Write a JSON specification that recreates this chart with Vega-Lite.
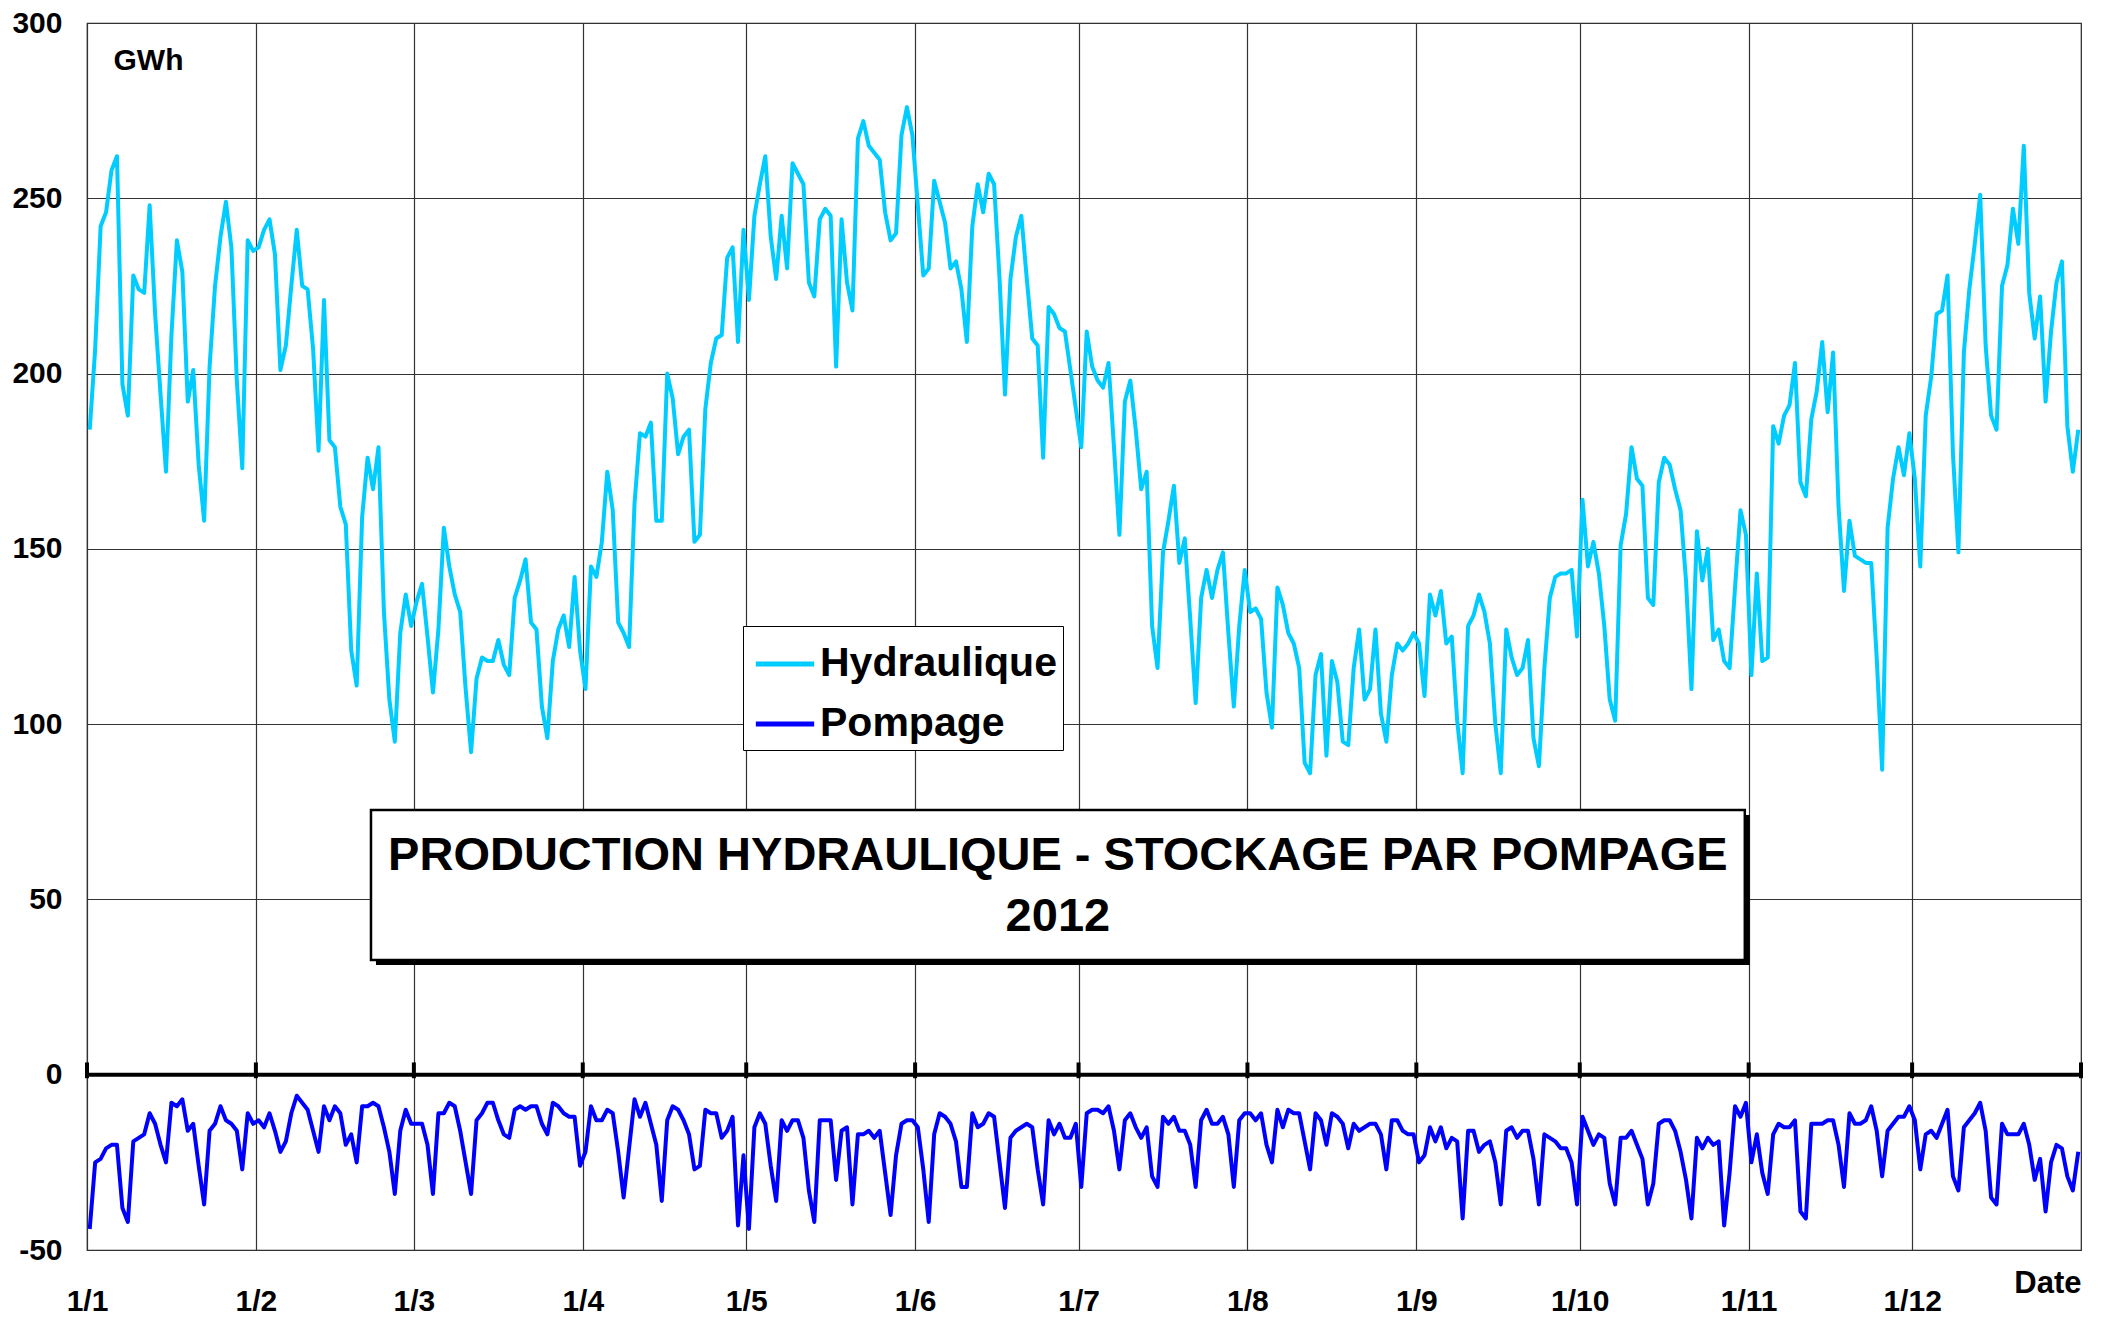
{
"$schema": "https://vega.github.io/schema/vega-lite/v6.json",
"width": 1994,
"height": 1227,
"autosize": {"type": "none"},
"padding": {"left": 87, "top": 23, "right": 26, "bottom": 68},
"background": "white",
"config": {"view": {"stroke": "#222", "strokeWidth": 1.2}, "font": "Liberation Sans"},
"data": {"values": [{}]},
"datasets": {
"daily": [
{"d":"2012-01-01T12:00","Hydraulique":184,"Pompage":-44},
{"d":"2012-01-02T12:00","Hydraulique":207,"Pompage":-25},
{"d":"2012-01-03T12:00","Hydraulique":242,"Pompage":-24},
{"d":"2012-01-04T12:00","Hydraulique":246,"Pompage":-21},
{"d":"2012-01-05T12:00","Hydraulique":258,"Pompage":-20},
{"d":"2012-01-06T12:00","Hydraulique":262,"Pompage":-20},
{"d":"2012-01-07T12:00","Hydraulique":197,"Pompage":-38},
{"d":"2012-01-08T12:00","Hydraulique":188,"Pompage":-42},
{"d":"2012-01-09T12:00","Hydraulique":228,"Pompage":-19},
{"d":"2012-01-10T12:00","Hydraulique":224,"Pompage":-18},
{"d":"2012-01-11T12:00","Hydraulique":223,"Pompage":-17},
{"d":"2012-01-12T12:00","Hydraulique":248,"Pompage":-11},
{"d":"2012-01-13T12:00","Hydraulique":217,"Pompage":-14},
{"d":"2012-01-14T12:00","Hydraulique":194,"Pompage":-20},
{"d":"2012-01-15T12:00","Hydraulique":172,"Pompage":-25},
{"d":"2012-01-16T12:00","Hydraulique":211,"Pompage":-8},
{"d":"2012-01-17T12:00","Hydraulique":238,"Pompage":-9},
{"d":"2012-01-18T12:00","Hydraulique":229,"Pompage":-7},
{"d":"2012-01-19T12:00","Hydraulique":192,"Pompage":-16},
{"d":"2012-01-20T12:00","Hydraulique":201,"Pompage":-14},
{"d":"2012-01-21T12:00","Hydraulique":174,"Pompage":-26},
{"d":"2012-01-22T12:00","Hydraulique":158,"Pompage":-37},
{"d":"2012-01-23T12:00","Hydraulique":202,"Pompage":-16},
{"d":"2012-01-24T12:00","Hydraulique":225,"Pompage":-14},
{"d":"2012-01-25T12:00","Hydraulique":239,"Pompage":-9},
{"d":"2012-01-26T12:00","Hydraulique":249,"Pompage":-13},
{"d":"2012-01-27T12:00","Hydraulique":236,"Pompage":-14},
{"d":"2012-01-28T12:00","Hydraulique":198,"Pompage":-16},
{"d":"2012-01-29T12:00","Hydraulique":173,"Pompage":-27},
{"d":"2012-01-30T12:00","Hydraulique":238,"Pompage":-11},
{"d":"2012-01-31T12:00","Hydraulique":235,"Pompage":-14},
{"d":"2012-02-01T12:00","Hydraulique":236,"Pompage":-13},
{"d":"2012-02-02T12:00","Hydraulique":241,"Pompage":-15},
{"d":"2012-02-03T12:00","Hydraulique":244,"Pompage":-11},
{"d":"2012-02-04T12:00","Hydraulique":234,"Pompage":-16},
{"d":"2012-02-05T12:00","Hydraulique":201,"Pompage":-22},
{"d":"2012-02-06T12:00","Hydraulique":208,"Pompage":-19},
{"d":"2012-02-07T12:00","Hydraulique":225,"Pompage":-11},
{"d":"2012-02-08T12:00","Hydraulique":241,"Pompage":-6},
{"d":"2012-02-09T12:00","Hydraulique":225,"Pompage":-8},
{"d":"2012-02-10T12:00","Hydraulique":224,"Pompage":-10},
{"d":"2012-02-11T12:00","Hydraulique":207,"Pompage":-16},
{"d":"2012-02-12T12:00","Hydraulique":178,"Pompage":-22},
{"d":"2012-02-13T12:00","Hydraulique":221,"Pompage":-9},
{"d":"2012-02-14T12:00","Hydraulique":181,"Pompage":-13},
{"d":"2012-02-15T12:00","Hydraulique":179,"Pompage":-9},
{"d":"2012-02-16T12:00","Hydraulique":162,"Pompage":-11},
{"d":"2012-02-17T12:00","Hydraulique":157,"Pompage":-20},
{"d":"2012-02-18T12:00","Hydraulique":121,"Pompage":-17},
{"d":"2012-02-19T12:00","Hydraulique":111,"Pompage":-25},
{"d":"2012-02-20T12:00","Hydraulique":159,"Pompage":-9},
{"d":"2012-02-21T12:00","Hydraulique":176,"Pompage":-9},
{"d":"2012-02-22T12:00","Hydraulique":167,"Pompage":-8},
{"d":"2012-02-23T12:00","Hydraulique":179,"Pompage":-9},
{"d":"2012-02-24T12:00","Hydraulique":132,"Pompage":-15},
{"d":"2012-02-25T12:00","Hydraulique":107,"Pompage":-22},
{"d":"2012-02-26T12:00","Hydraulique":95,"Pompage":-34},
{"d":"2012-02-27T12:00","Hydraulique":126,"Pompage":-16},
{"d":"2012-02-28T12:00","Hydraulique":137,"Pompage":-10},
{"d":"2012-02-29T12:00","Hydraulique":128,"Pompage":-14},
{"d":"2012-03-01T12:00","Hydraulique":135,"Pompage":-14},
{"d":"2012-03-02T12:00","Hydraulique":140,"Pompage":-14},
{"d":"2012-03-03T12:00","Hydraulique":125,"Pompage":-20},
{"d":"2012-03-04T12:00","Hydraulique":109,"Pompage":-34},
{"d":"2012-03-05T12:00","Hydraulique":127,"Pompage":-11},
{"d":"2012-03-06T12:00","Hydraulique":156,"Pompage":-11},
{"d":"2012-03-07T12:00","Hydraulique":145,"Pompage":-8},
{"d":"2012-03-08T12:00","Hydraulique":137,"Pompage":-9},
{"d":"2012-03-09T12:00","Hydraulique":132,"Pompage":-16},
{"d":"2012-03-10T12:00","Hydraulique":110,"Pompage":-25},
{"d":"2012-03-11T12:00","Hydraulique":92,"Pompage":-34},
{"d":"2012-03-12T12:00","Hydraulique":113,"Pompage":-13},
{"d":"2012-03-13T12:00","Hydraulique":119,"Pompage":-11},
{"d":"2012-03-14T12:00","Hydraulique":118,"Pompage":-8},
{"d":"2012-03-15T12:00","Hydraulique":118,"Pompage":-8},
{"d":"2012-03-16T12:00","Hydraulique":124,"Pompage":-13},
{"d":"2012-03-17T12:00","Hydraulique":117,"Pompage":-17},
{"d":"2012-03-18T12:00","Hydraulique":114,"Pompage":-18},
{"d":"2012-03-19T12:00","Hydraulique":136,"Pompage":-10},
{"d":"2012-03-20T12:00","Hydraulique":141,"Pompage":-9},
{"d":"2012-03-21T12:00","Hydraulique":147,"Pompage":-10},
{"d":"2012-03-22T12:00","Hydraulique":129,"Pompage":-9},
{"d":"2012-03-23T12:00","Hydraulique":127,"Pompage":-9},
{"d":"2012-03-24T12:00","Hydraulique":105,"Pompage":-14},
{"d":"2012-03-25T12:00","Hydraulique":96,"Pompage":-17},
{"d":"2012-03-26T12:00","Hydraulique":118,"Pompage":-8},
{"d":"2012-03-27T12:00","Hydraulique":127,"Pompage":-9},
{"d":"2012-03-28T12:00","Hydraulique":131,"Pompage":-11},
{"d":"2012-03-29T12:00","Hydraulique":122,"Pompage":-12},
{"d":"2012-03-30T12:00","Hydraulique":142,"Pompage":-12},
{"d":"2012-03-31T12:00","Hydraulique":121,"Pompage":-26},
{"d":"2012-04-01T12:00","Hydraulique":110,"Pompage":-22},
{"d":"2012-04-02T12:00","Hydraulique":145,"Pompage":-9},
{"d":"2012-04-03T12:00","Hydraulique":142,"Pompage":-13},
{"d":"2012-04-04T12:00","Hydraulique":152,"Pompage":-13},
{"d":"2012-04-05T12:00","Hydraulique":172,"Pompage":-10},
{"d":"2012-04-06T12:00","Hydraulique":161,"Pompage":-11},
{"d":"2012-04-07T12:00","Hydraulique":129,"Pompage":-22},
{"d":"2012-04-08T12:00","Hydraulique":126,"Pompage":-35},
{"d":"2012-04-09T12:00","Hydraulique":122,"Pompage":-21},
{"d":"2012-04-10T12:00","Hydraulique":163,"Pompage":-7},
{"d":"2012-04-11T12:00","Hydraulique":183,"Pompage":-12},
{"d":"2012-04-12T12:00","Hydraulique":182,"Pompage":-8},
{"d":"2012-04-13T12:00","Hydraulique":186,"Pompage":-14},
{"d":"2012-04-14T12:00","Hydraulique":158,"Pompage":-20},
{"d":"2012-04-15T12:00","Hydraulique":158,"Pompage":-36},
{"d":"2012-04-16T12:00","Hydraulique":200,"Pompage":-13},
{"d":"2012-04-17T12:00","Hydraulique":193,"Pompage":-9},
{"d":"2012-04-18T12:00","Hydraulique":177,"Pompage":-10},
{"d":"2012-04-19T12:00","Hydraulique":182,"Pompage":-13},
{"d":"2012-04-20T12:00","Hydraulique":184,"Pompage":-17},
{"d":"2012-04-21T12:00","Hydraulique":152,"Pompage":-27},
{"d":"2012-04-22T12:00","Hydraulique":154,"Pompage":-26},
{"d":"2012-04-23T12:00","Hydraulique":190,"Pompage":-10},
{"d":"2012-04-24T12:00","Hydraulique":203,"Pompage":-11},
{"d":"2012-04-25T12:00","Hydraulique":210,"Pompage":-11},
{"d":"2012-04-26T12:00","Hydraulique":211,"Pompage":-18},
{"d":"2012-04-27T12:00","Hydraulique":233,"Pompage":-16},
{"d":"2012-04-28T12:00","Hydraulique":236,"Pompage":-12},
{"d":"2012-04-29T12:00","Hydraulique":209,"Pompage":-43},
{"d":"2012-04-30T12:00","Hydraulique":241,"Pompage":-23},
{"d":"2012-05-01T12:00","Hydraulique":221,"Pompage":-44},
{"d":"2012-05-02T12:00","Hydraulique":245,"Pompage":-15},
{"d":"2012-05-03T12:00","Hydraulique":254,"Pompage":-11},
{"d":"2012-05-04T12:00","Hydraulique":262,"Pompage":-14},
{"d":"2012-05-05T12:00","Hydraulique":239,"Pompage":-26},
{"d":"2012-05-06T12:00","Hydraulique":227,"Pompage":-36},
{"d":"2012-05-07T12:00","Hydraulique":245,"Pompage":-13},
{"d":"2012-05-08T12:00","Hydraulique":230,"Pompage":-16},
{"d":"2012-05-09T12:00","Hydraulique":260,"Pompage":-13},
{"d":"2012-05-10T12:00","Hydraulique":257,"Pompage":-13},
{"d":"2012-05-11T12:00","Hydraulique":254,"Pompage":-18},
{"d":"2012-05-12T12:00","Hydraulique":226,"Pompage":-33},
{"d":"2012-05-13T12:00","Hydraulique":222,"Pompage":-42},
{"d":"2012-05-14T12:00","Hydraulique":244,"Pompage":-13},
{"d":"2012-05-15T12:00","Hydraulique":247,"Pompage":-13},
{"d":"2012-05-16T12:00","Hydraulique":245,"Pompage":-13},
{"d":"2012-05-17T12:00","Hydraulique":202,"Pompage":-30},
{"d":"2012-05-18T12:00","Hydraulique":244,"Pompage":-16},
{"d":"2012-05-19T12:00","Hydraulique":226,"Pompage":-15},
{"d":"2012-05-20T12:00","Hydraulique":218,"Pompage":-37},
{"d":"2012-05-21T12:00","Hydraulique":267,"Pompage":-17},
{"d":"2012-05-22T12:00","Hydraulique":272,"Pompage":-17},
{"d":"2012-05-23T12:00","Hydraulique":265,"Pompage":-16},
{"d":"2012-05-24T12:00","Hydraulique":263,"Pompage":-18},
{"d":"2012-05-25T12:00","Hydraulique":261,"Pompage":-16},
{"d":"2012-05-26T12:00","Hydraulique":246,"Pompage":-28},
{"d":"2012-05-27T12:00","Hydraulique":238,"Pompage":-40},
{"d":"2012-05-28T12:00","Hydraulique":240,"Pompage":-23},
{"d":"2012-05-29T12:00","Hydraulique":268,"Pompage":-14},
{"d":"2012-05-30T12:00","Hydraulique":276,"Pompage":-13},
{"d":"2012-05-31T12:00","Hydraulique":268,"Pompage":-13},
{"d":"2012-06-01T12:00","Hydraulique":248,"Pompage":-15},
{"d":"2012-06-02T12:00","Hydraulique":228,"Pompage":-27},
{"d":"2012-06-03T12:00","Hydraulique":230,"Pompage":-42},
{"d":"2012-06-04T12:00","Hydraulique":255,"Pompage":-17},
{"d":"2012-06-05T12:00","Hydraulique":249,"Pompage":-11},
{"d":"2012-06-06T12:00","Hydraulique":243,"Pompage":-12},
{"d":"2012-06-07T12:00","Hydraulique":230,"Pompage":-14},
{"d":"2012-06-08T12:00","Hydraulique":232,"Pompage":-19},
{"d":"2012-06-09T12:00","Hydraulique":224,"Pompage":-32},
{"d":"2012-06-10T12:00","Hydraulique":209,"Pompage":-32},
{"d":"2012-06-11T12:00","Hydraulique":242,"Pompage":-11},
{"d":"2012-06-12T12:00","Hydraulique":254,"Pompage":-15},
{"d":"2012-06-13T12:00","Hydraulique":246,"Pompage":-14},
{"d":"2012-06-14T12:00","Hydraulique":257,"Pompage":-11},
{"d":"2012-06-15T12:00","Hydraulique":254,"Pompage":-12},
{"d":"2012-06-16T12:00","Hydraulique":227,"Pompage":-25},
{"d":"2012-06-17T12:00","Hydraulique":194,"Pompage":-38},
{"d":"2012-06-18T12:00","Hydraulique":227,"Pompage":-18},
{"d":"2012-06-19T12:00","Hydraulique":239,"Pompage":-16},
{"d":"2012-06-20T12:00","Hydraulique":245,"Pompage":-15},
{"d":"2012-06-21T12:00","Hydraulique":227,"Pompage":-14},
{"d":"2012-06-22T12:00","Hydraulique":210,"Pompage":-15},
{"d":"2012-06-23T12:00","Hydraulique":208,"Pompage":-27},
{"d":"2012-06-24T12:00","Hydraulique":176,"Pompage":-37},
{"d":"2012-06-25T12:00","Hydraulique":219,"Pompage":-13},
{"d":"2012-06-26T12:00","Hydraulique":217,"Pompage":-17},
{"d":"2012-06-27T12:00","Hydraulique":213,"Pompage":-14},
{"d":"2012-06-28T12:00","Hydraulique":212,"Pompage":-18},
{"d":"2012-06-29T12:00","Hydraulique":201,"Pompage":-18},
{"d":"2012-06-30T12:00","Hydraulique":190,"Pompage":-14},
{"d":"2012-07-01T12:00","Hydraulique":179,"Pompage":-32},
{"d":"2012-07-02T12:00","Hydraulique":212,"Pompage":-11},
{"d":"2012-07-03T12:00","Hydraulique":202,"Pompage":-10},
{"d":"2012-07-04T12:00","Hydraulique":198,"Pompage":-10},
{"d":"2012-07-05T12:00","Hydraulique":196,"Pompage":-11},
{"d":"2012-07-06T12:00","Hydraulique":203,"Pompage":-9},
{"d":"2012-07-07T12:00","Hydraulique":179,"Pompage":-16},
{"d":"2012-07-08T12:00","Hydraulique":154,"Pompage":-27},
{"d":"2012-07-09T12:00","Hydraulique":192,"Pompage":-13},
{"d":"2012-07-10T12:00","Hydraulique":198,"Pompage":-11},
{"d":"2012-07-11T12:00","Hydraulique":184,"Pompage":-15},
{"d":"2012-07-12T12:00","Hydraulique":167,"Pompage":-18},
{"d":"2012-07-13T12:00","Hydraulique":172,"Pompage":-15},
{"d":"2012-07-14T12:00","Hydraulique":128,"Pompage":-29},
{"d":"2012-07-15T12:00","Hydraulique":116,"Pompage":-32},
{"d":"2012-07-16T12:00","Hydraulique":149,"Pompage":-12},
{"d":"2012-07-17T12:00","Hydraulique":158,"Pompage":-14},
{"d":"2012-07-18T12:00","Hydraulique":168,"Pompage":-12},
{"d":"2012-07-19T12:00","Hydraulique":146,"Pompage":-16},
{"d":"2012-07-20T12:00","Hydraulique":153,"Pompage":-16},
{"d":"2012-07-21T12:00","Hydraulique":130,"Pompage":-20},
{"d":"2012-07-22T12:00","Hydraulique":106,"Pompage":-32},
{"d":"2012-07-23T12:00","Hydraulique":136,"Pompage":-13},
{"d":"2012-07-24T12:00","Hydraulique":144,"Pompage":-10},
{"d":"2012-07-25T12:00","Hydraulique":136,"Pompage":-14},
{"d":"2012-07-26T12:00","Hydraulique":144,"Pompage":-14},
{"d":"2012-07-27T12:00","Hydraulique":149,"Pompage":-12},
{"d":"2012-07-28T12:00","Hydraulique":126,"Pompage":-17},
{"d":"2012-07-29T12:00","Hydraulique":105,"Pompage":-32},
{"d":"2012-07-30T12:00","Hydraulique":128,"Pompage":-13},
{"d":"2012-07-31T12:00","Hydraulique":144,"Pompage":-11},
{"d":"2012-08-01T12:00","Hydraulique":132,"Pompage":-11},
{"d":"2012-08-02T12:00","Hydraulique":133,"Pompage":-13},
{"d":"2012-08-03T12:00","Hydraulique":130,"Pompage":-11},
{"d":"2012-08-04T12:00","Hydraulique":109,"Pompage":-20},
{"d":"2012-08-05T12:00","Hydraulique":99,"Pompage":-25},
{"d":"2012-08-06T12:00","Hydraulique":139,"Pompage":-10},
{"d":"2012-08-07T12:00","Hydraulique":134,"Pompage":-15},
{"d":"2012-08-08T12:00","Hydraulique":126,"Pompage":-10},
{"d":"2012-08-09T12:00","Hydraulique":123,"Pompage":-11},
{"d":"2012-08-10T12:00","Hydraulique":116,"Pompage":-11},
{"d":"2012-08-11T12:00","Hydraulique":89,"Pompage":-19},
{"d":"2012-08-12T12:00","Hydraulique":86,"Pompage":-27},
{"d":"2012-08-13T12:00","Hydraulique":114,"Pompage":-11},
{"d":"2012-08-14T12:00","Hydraulique":120,"Pompage":-13},
{"d":"2012-08-15T12:00","Hydraulique":91,"Pompage":-20},
{"d":"2012-08-16T12:00","Hydraulique":118,"Pompage":-11},
{"d":"2012-08-17T12:00","Hydraulique":112,"Pompage":-12},
{"d":"2012-08-18T12:00","Hydraulique":95,"Pompage":-14},
{"d":"2012-08-19T12:00","Hydraulique":94,"Pompage":-21},
{"d":"2012-08-20T12:00","Hydraulique":116,"Pompage":-14},
{"d":"2012-08-21T12:00","Hydraulique":127,"Pompage":-16},
{"d":"2012-08-22T12:00","Hydraulique":107,"Pompage":-15},
{"d":"2012-08-23T12:00","Hydraulique":110,"Pompage":-14},
{"d":"2012-08-24T12:00","Hydraulique":127,"Pompage":-14},
{"d":"2012-08-25T12:00","Hydraulique":103,"Pompage":-17},
{"d":"2012-08-26T12:00","Hydraulique":95,"Pompage":-27},
{"d":"2012-08-27T12:00","Hydraulique":114,"Pompage":-13},
{"d":"2012-08-28T12:00","Hydraulique":123,"Pompage":-13},
{"d":"2012-08-29T12:00","Hydraulique":121,"Pompage":-16},
{"d":"2012-08-30T12:00","Hydraulique":123,"Pompage":-17},
{"d":"2012-08-31T12:00","Hydraulique":126,"Pompage":-17},
{"d":"2012-09-01T12:00","Hydraulique":123,"Pompage":-25},
{"d":"2012-09-02T12:00","Hydraulique":108,"Pompage":-23},
{"d":"2012-09-03T12:00","Hydraulique":137,"Pompage":-15},
{"d":"2012-09-04T12:00","Hydraulique":131,"Pompage":-19},
{"d":"2012-09-05T12:00","Hydraulique":138,"Pompage":-15},
{"d":"2012-09-06T12:00","Hydraulique":123,"Pompage":-21},
{"d":"2012-09-07T12:00","Hydraulique":125,"Pompage":-18},
{"d":"2012-09-08T12:00","Hydraulique":101,"Pompage":-19},
{"d":"2012-09-09T12:00","Hydraulique":86,"Pompage":-41},
{"d":"2012-09-10T12:00","Hydraulique":128,"Pompage":-16},
{"d":"2012-09-11T12:00","Hydraulique":131,"Pompage":-16},
{"d":"2012-09-12T12:00","Hydraulique":137,"Pompage":-22},
{"d":"2012-09-13T12:00","Hydraulique":132,"Pompage":-20},
{"d":"2012-09-14T12:00","Hydraulique":123,"Pompage":-19},
{"d":"2012-09-15T12:00","Hydraulique":100,"Pompage":-25},
{"d":"2012-09-16T12:00","Hydraulique":86,"Pompage":-37},
{"d":"2012-09-17T12:00","Hydraulique":127,"Pompage":-16},
{"d":"2012-09-18T12:00","Hydraulique":119,"Pompage":-15},
{"d":"2012-09-19T12:00","Hydraulique":114,"Pompage":-18},
{"d":"2012-09-20T12:00","Hydraulique":116,"Pompage":-16},
{"d":"2012-09-21T12:00","Hydraulique":124,"Pompage":-16},
{"d":"2012-09-22T12:00","Hydraulique":96,"Pompage":-24},
{"d":"2012-09-23T12:00","Hydraulique":88,"Pompage":-37},
{"d":"2012-09-24T12:00","Hydraulique":116,"Pompage":-17},
{"d":"2012-09-25T12:00","Hydraulique":136,"Pompage":-18},
{"d":"2012-09-26T12:00","Hydraulique":142,"Pompage":-19},
{"d":"2012-09-27T12:00","Hydraulique":143,"Pompage":-21},
{"d":"2012-09-28T12:00","Hydraulique":143,"Pompage":-21},
{"d":"2012-09-29T12:00","Hydraulique":144,"Pompage":-25},
{"d":"2012-09-30T12:00","Hydraulique":125,"Pompage":-37},
{"d":"2012-10-01T12:00","Hydraulique":164,"Pompage":-12},
{"d":"2012-10-02T12:00","Hydraulique":145,"Pompage":-16},
{"d":"2012-10-03T12:00","Hydraulique":152,"Pompage":-20},
{"d":"2012-10-04T12:00","Hydraulique":143,"Pompage":-17},
{"d":"2012-10-05T12:00","Hydraulique":128,"Pompage":-18},
{"d":"2012-10-06T12:00","Hydraulique":107,"Pompage":-31},
{"d":"2012-10-07T12:00","Hydraulique":101,"Pompage":-37},
{"d":"2012-10-08T12:00","Hydraulique":151,"Pompage":-18},
{"d":"2012-10-09T12:00","Hydraulique":160,"Pompage":-18},
{"d":"2012-10-10T12:00","Hydraulique":179,"Pompage":-16},
{"d":"2012-10-11T12:00","Hydraulique":170,"Pompage":-20},
{"d":"2012-10-12T12:00","Hydraulique":168,"Pompage":-24},
{"d":"2012-10-13T12:00","Hydraulique":136,"Pompage":-37},
{"d":"2012-10-14T12:00","Hydraulique":134,"Pompage":-31},
{"d":"2012-10-15T12:00","Hydraulique":169,"Pompage":-14},
{"d":"2012-10-16T12:00","Hydraulique":176,"Pompage":-13},
{"d":"2012-10-17T12:00","Hydraulique":174,"Pompage":-13},
{"d":"2012-10-18T12:00","Hydraulique":167,"Pompage":-16},
{"d":"2012-10-19T12:00","Hydraulique":161,"Pompage":-22},
{"d":"2012-10-20T12:00","Hydraulique":141,"Pompage":-30},
{"d":"2012-10-21T12:00","Hydraulique":110,"Pompage":-41},
{"d":"2012-10-22T12:00","Hydraulique":155,"Pompage":-18},
{"d":"2012-10-23T12:00","Hydraulique":141,"Pompage":-21},
{"d":"2012-10-24T12:00","Hydraulique":150,"Pompage":-18},
{"d":"2012-10-25T12:00","Hydraulique":124,"Pompage":-20},
{"d":"2012-10-26T12:00","Hydraulique":127,"Pompage":-19},
{"d":"2012-10-27T12:00","Hydraulique":118,"Pompage":-43},
{"d":"2012-10-28T12:00","Hydraulique":116,"Pompage":-28},
{"d":"2012-10-29T12:00","Hydraulique":139,"Pompage":-9},
{"d":"2012-10-30T12:00","Hydraulique":161,"Pompage":-12},
{"d":"2012-10-31T12:00","Hydraulique":154,"Pompage":-8},
{"d":"2012-11-01T12:00","Hydraulique":114,"Pompage":-25},
{"d":"2012-11-02T12:00","Hydraulique":143,"Pompage":-17},
{"d":"2012-11-03T12:00","Hydraulique":118,"Pompage":-28},
{"d":"2012-11-04T12:00","Hydraulique":119,"Pompage":-34},
{"d":"2012-11-05T12:00","Hydraulique":185,"Pompage":-17},
{"d":"2012-11-06T12:00","Hydraulique":180,"Pompage":-14},
{"d":"2012-11-07T12:00","Hydraulique":188,"Pompage":-15},
{"d":"2012-11-08T12:00","Hydraulique":191,"Pompage":-15},
{"d":"2012-11-09T12:00","Hydraulique":203,"Pompage":-13},
{"d":"2012-11-10T12:00","Hydraulique":169,"Pompage":-39},
{"d":"2012-11-11T12:00","Hydraulique":165,"Pompage":-41},
{"d":"2012-11-12T12:00","Hydraulique":187,"Pompage":-14},
{"d":"2012-11-13T12:00","Hydraulique":195,"Pompage":-14},
{"d":"2012-11-14T12:00","Hydraulique":209,"Pompage":-14},
{"d":"2012-11-15T12:00","Hydraulique":189,"Pompage":-13},
{"d":"2012-11-16T12:00","Hydraulique":206,"Pompage":-13},
{"d":"2012-11-17T12:00","Hydraulique":162,"Pompage":-20},
{"d":"2012-11-18T12:00","Hydraulique":138,"Pompage":-32},
{"d":"2012-11-19T12:00","Hydraulique":158,"Pompage":-11},
{"d":"2012-11-20T12:00","Hydraulique":148,"Pompage":-14},
{"d":"2012-11-21T12:00","Hydraulique":147,"Pompage":-14},
{"d":"2012-11-22T12:00","Hydraulique":146,"Pompage":-13},
{"d":"2012-11-23T12:00","Hydraulique":146,"Pompage":-9},
{"d":"2012-11-24T12:00","Hydraulique":119,"Pompage":-16},
{"d":"2012-11-25T12:00","Hydraulique":87,"Pompage":-29},
{"d":"2012-11-26T12:00","Hydraulique":156,"Pompage":-16},
{"d":"2012-11-27T12:00","Hydraulique":170,"Pompage":-14},
{"d":"2012-11-28T12:00","Hydraulique":179,"Pompage":-12},
{"d":"2012-11-29T12:00","Hydraulique":171,"Pompage":-12},
{"d":"2012-11-30T12:00","Hydraulique":183,"Pompage":-9},
{"d":"2012-12-01T12:00","Hydraulique":170,"Pompage":-13},
{"d":"2012-12-02T12:00","Hydraulique":145,"Pompage":-27},
{"d":"2012-12-03T12:00","Hydraulique":188,"Pompage":-17},
{"d":"2012-12-04T12:00","Hydraulique":199,"Pompage":-16},
{"d":"2012-12-05T12:00","Hydraulique":217,"Pompage":-18},
{"d":"2012-12-06T12:00","Hydraulique":218,"Pompage":-14},
{"d":"2012-12-07T12:00","Hydraulique":228,"Pompage":-10},
{"d":"2012-12-08T12:00","Hydraulique":177,"Pompage":-29},
{"d":"2012-12-09T12:00","Hydraulique":149,"Pompage":-33},
{"d":"2012-12-10T12:00","Hydraulique":206,"Pompage":-15},
{"d":"2012-12-11T12:00","Hydraulique":224,"Pompage":-13},
{"d":"2012-12-12T12:00","Hydraulique":237,"Pompage":-11},
{"d":"2012-12-13T12:00","Hydraulique":251,"Pompage":-8},
{"d":"2012-12-14T12:00","Hydraulique":208,"Pompage":-16},
{"d":"2012-12-15T12:00","Hydraulique":188,"Pompage":-35},
{"d":"2012-12-16T12:00","Hydraulique":184,"Pompage":-37},
{"d":"2012-12-17T12:00","Hydraulique":225,"Pompage":-14},
{"d":"2012-12-18T12:00","Hydraulique":231,"Pompage":-17},
{"d":"2012-12-19T12:00","Hydraulique":247,"Pompage":-17},
{"d":"2012-12-20T12:00","Hydraulique":237,"Pompage":-17},
{"d":"2012-12-21T12:00","Hydraulique":265,"Pompage":-14},
{"d":"2012-12-22T12:00","Hydraulique":223,"Pompage":-20},
{"d":"2012-12-23T12:00","Hydraulique":210,"Pompage":-30},
{"d":"2012-12-24T12:00","Hydraulique":222,"Pompage":-24},
{"d":"2012-12-25T12:00","Hydraulique":192,"Pompage":-39},
{"d":"2012-12-26T12:00","Hydraulique":212,"Pompage":-25},
{"d":"2012-12-27T12:00","Hydraulique":226,"Pompage":-20},
{"d":"2012-12-28T12:00","Hydraulique":232,"Pompage":-21},
{"d":"2012-12-29T12:00","Hydraulique":185,"Pompage":-29},
{"d":"2012-12-30T12:00","Hydraulique":172,"Pompage":-33},
{"d":"2012-12-31T12:00","Hydraulique":184,"Pompage":-22}
],
"months": [
{"m":"2012-01-01T00:00"},{"m":"2012-02-01T00:00"},{"m":"2012-03-01T00:00"},{"m":"2012-04-01T00:00"},
{"m":"2012-05-01T00:00"},{"m":"2012-06-01T00:00"},{"m":"2012-07-01T00:00"},{"m":"2012-08-01T00:00"},
{"m":"2012-09-01T00:00"},{"m":"2012-10-01T00:00"},{"m":"2012-11-01T00:00"},{"m":"2012-12-01T00:00"},
{"m":"2013-01-01T00:00"}
]
},
"layer": [
{
"data": {"name": "daily"},
"transform": [{"fold": ["Hydraulique", "Pompage"], "as": ["serie", "v"]}],
"mark": {"type": "line", "strokeWidth": 4, "strokeJoin": "round"},
"encoding": {
"x": {"field": "d", "type": "temporal",
"scale": {"domain": [{"year": 2012, "month": 1, "date": 1}, {"year": 2013, "month": 1, "date": 1}]},
"axis": {"values": [{"year":2012,"month":1,"date":1},{"year":2012,"month":2,"date":1},{"year":2012,"month":3,"date":1},{"year":2012,"month":4,"date":1},{"year":2012,"month":5,"date":1},{"year":2012,"month":6,"date":1},{"year":2012,"month":7,"date":1},{"year":2012,"month":8,"date":1},{"year":2012,"month":9,"date":1},{"year":2012,"month":10,"date":1},{"year":2012,"month":11,"date":1},{"year":2012,"month":12,"date":1}],
"format": "%-d/%-m", "labelFont": "Liberation Sans", "labelFontWeight": "bold", "labelFontSize": 30, "labelColor": "black",
"labelPadding": 36, "ticks": false, "domain": false, "labelFlush": false, "labelOverlap": false,
"grid": true, "gridColor": "#333", "gridWidth": 1.2,
"title": "Date", "titleFont": "Liberation Sans", "titleFontWeight": "bold", "titleFontSize": 31, "titleColor": "black",
"titleX": 1994, "titleY": 33, "titleAlign": "right", "titleBaseline": "middle", "titleAngle": 0}},
"y": {"field": "v", "type": "quantitative",
"scale": {"domain": [-50, 300], "nice": false, "zero": false},
"axis": {"values": [-50, 0, 50, 100, 150, 200, 250, 300], "labelExpr": "'' + datum.value",
"labelFont": "Liberation Sans", "labelFontWeight": "bold", "labelFontSize": 30, "labelColor": "black",
"labelPadding": 25, "ticks": false, "domain": false, "labelFlush": false, "labelOverlap": false,
"grid": true, "gridColor": "#333", "gridWidth": 1.2,
"title": "GWh", "titleFont": "Liberation Sans", "titleFontWeight": "bold", "titleFontSize": 30, "titleColor": "black",
"titleAngle": 0, "titleX": 61, "titleY": 37, "titleAlign": "center", "titleBaseline": "middle"}},
"color": {"field": "serie", "type": "nominal",
"scale": {"domain": ["Hydraulique", "Pompage"], "range": ["#00CCFF", "#0000FF"]},
"legend": {"orient": "none", "legendX": 656, "legendY": 603, "title": null,
"fillColor": "white", "strokeColor": "black", "padding": 6, "cornerRadius": 0,
"symbolType": "stroke", "symbolStrokeWidth": 5, "symbolSize": 3400, "symbolOffset": 4,
"labelFont": "Liberation Sans", "labelFontWeight": "bold", "labelFontSize": 41, "labelColor": "black",
"labelLimit": 500, "labelOffset": 3, "rowPadding": 8}}
}
},
{
"mark": {"type": "rule", "color": "black", "strokeWidth": 4},
"encoding": {"y": {"datum": 0}}
},
{
"data": {"name": "months"},
"mark": {"type": "rule", "color": "black", "strokeWidth": 4},
"encoding": {"x": {"field": "m", "type": "temporal"}, "y": {"datum": 3.5}, "y2": {"datum": -1}}
},
{
"mark": {"type": "rect", "fill": "black", "xOffset": 5, "x2Offset": 5, "yOffset": 5, "y2Offset": 5},
"encoding": {
"x": {"datum": {"year": 2012, "month": 2, "date": 22, "hours": 3}, "type": "temporal"},
"x2": {"datum": {"year": 2012, "month": 10, "date": 31, "hours": 7}},
"y": {"datum": 75.5}, "y2": {"datum": 32.7}}
},
{
"mark": {"type": "rect", "fill": "white", "stroke": "black", "strokeWidth": 2.5},
"encoding": {
"x": {"datum": {"year": 2012, "month": 2, "date": 22, "hours": 3}, "type": "temporal"},
"x2": {"datum": {"year": 2012, "month": 10, "date": 31, "hours": 7}},
"y": {"datum": 75.5}, "y2": {"datum": 32.7}}
},
{
"mark": {"type": "text", "font": "Liberation Sans", "fontWeight": "bold", "fontSize": 47, "lineHeight": 61, "align": "center", "baseline": "middle", "color": "black"},
"encoding": {
"x": {"datum": {"year": 2012, "month": 6, "date": 27, "hours": 5}, "type": "temporal"},
"y": {"datum": 62.4},
"text": {"value": ["PRODUCTION HYDRAULIQUE - STOCKAGE PAR POMPAGE", "2012"]}}
}
]
}
